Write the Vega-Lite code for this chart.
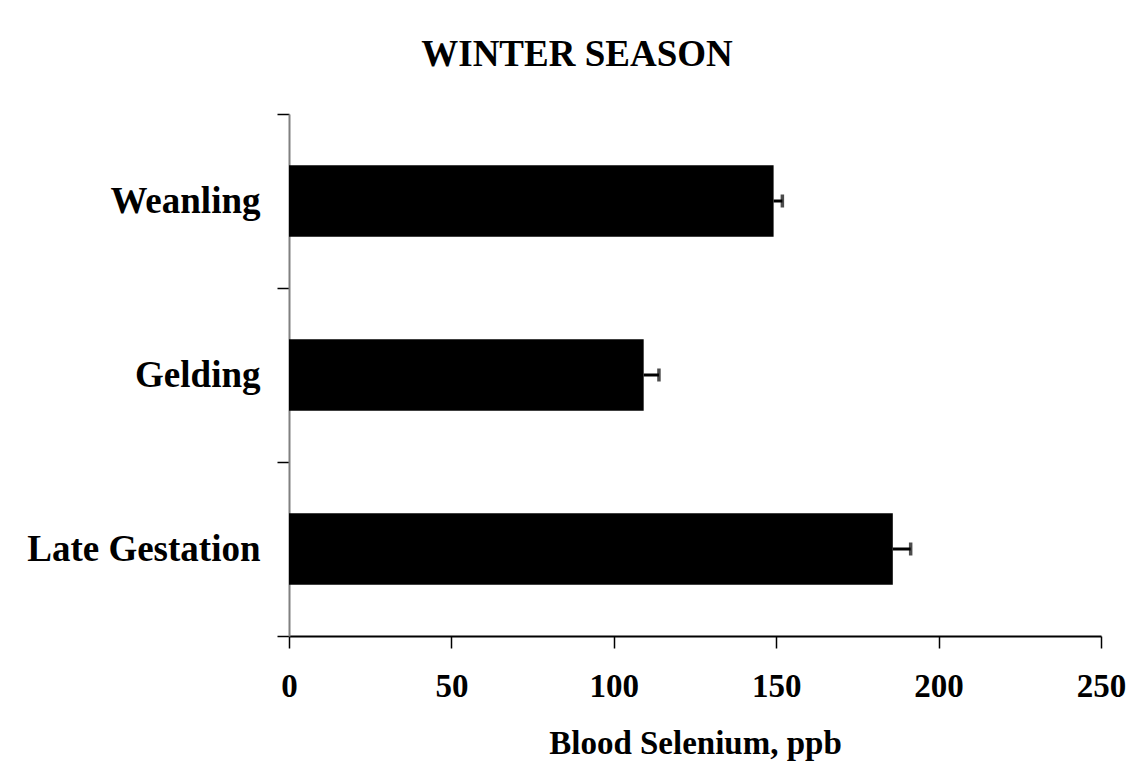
{
  "$schema": "https://vega.github.io/schema/vega-lite/v6.json",
  "width": 812,
  "height": 522,
  "autosize": {"type": "none"},
  "padding": {"left": 289, "top": 114, "right": 37, "bottom": 143},
  "background": "white",
  "config": {"view": {"stroke": null}},
  "title": {
    "text": "WINTER SEASON",
    "font": "Liberation Serif",
    "fontSize": 37,
    "fontWeight": "bold",
    "color": "black",
    "anchor": "middle",
    "frame": "group",
    "dx": -118,
    "offset": -8,
    "baseline": "alphabetic"
  },
  "data": {
    "values": [
      {"group": "Weanling", "value": 149.2, "upper": 151.9},
      {"group": "Gelding", "value": 109.2, "upper": 113.9},
      {"group": "Late Gestation", "value": 185.9, "upper": 191.4}
    ]
  },
  "encoding": {
    "y": {
      "field": "group",
      "type": "nominal",
      "sort": ["Weanling", "Gelding", "Late Gestation"],
      "scale": {"paddingInner": 0, "paddingOuter": 0},
      "axis": {
        "title": null,
        "labelFont": "Liberation Serif",
        "labelFontSize": 37,
        "labelFontWeight": "bold",
        "labelColor": "black",
        "labelPadding": 17,
        "labelLimit": 0,
        "tickSize": 12,
        "tickColor": "black",
        "tickWidth": 1.5,
        "tickBand": "extent",
        "domainColor": "#808080",
        "domainWidth": 2,
        "grid": false
      }
    }
  },
  "layer": [
    {
      "mark": {"type": "bar", "color": "black", "height": {"band": 0.41}},
      "encoding": {
        "x": {
          "field": "value",
          "type": "quantitative",
          "scale": {"domain": [0, 250], "nice": false},
          "axis": {
            "values": [0, 50, 100, 150, 200, 250],
            "grid": false,
            "tickSize": 12,
            "tickColor": "black",
            "tickWidth": 1.5,
            "domainColor": "black",
            "domainWidth": 2,
            "labelFlush": false,
            "labelFont": "Liberation Serif",
            "labelFontSize": 33,
            "labelFontWeight": "bold",
            "labelColor": "black",
            "labelPadding": 22,
            "title": "Blood Selenium, ppb",
            "titleFont": "Liberation Serif",
            "titleFontSize": 33,
            "titleFontWeight": "bold",
            "titleColor": "black",
            "titlePadding": 24
          }
        }
      }
    },
    {
      "mark": {"type": "rule", "color": "black", "strokeWidth": 3},
      "encoding": {
        "x": {"field": "value", "type": "quantitative"},
        "x2": {"field": "upper"}
      }
    },
    {
      "mark": {"type": "tick", "color": "black", "thickness": 3.5, "size": 13},
      "encoding": {
        "x": {"field": "upper", "type": "quantitative"}
      }
    }
  ]
}
